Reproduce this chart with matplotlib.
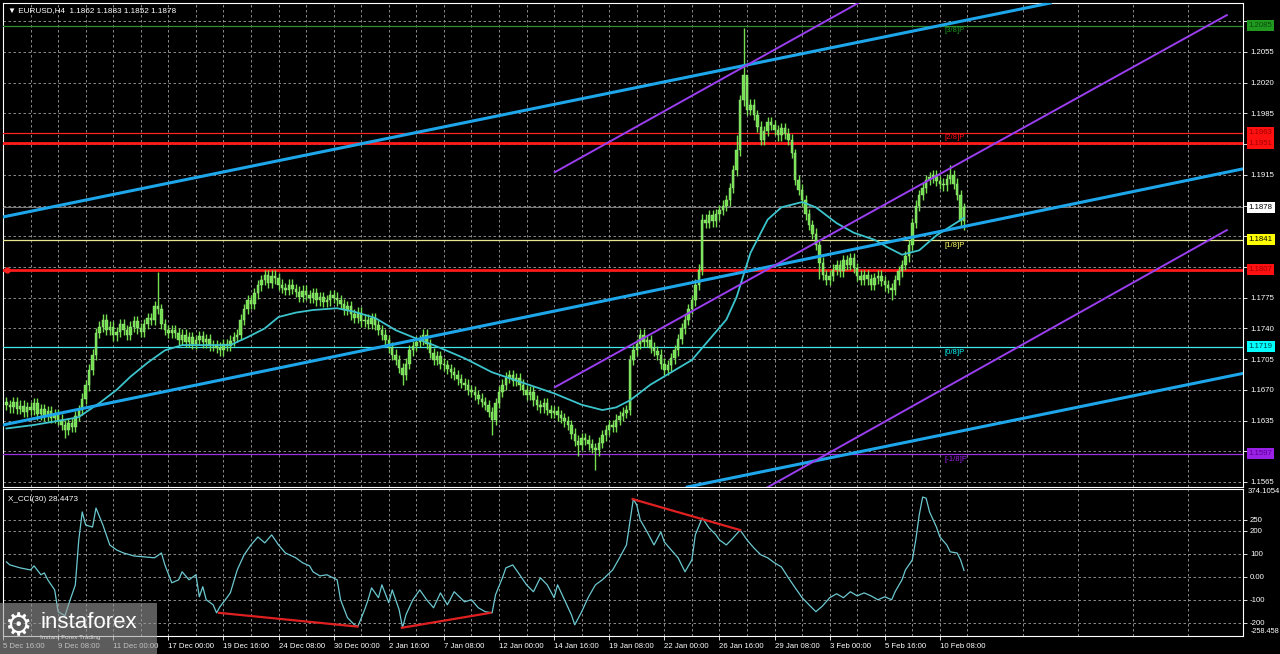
"""
EURUSD H4 chart with CCI panel, MT4-style dark theme.
"""

import numpy as np
import matplotlib.pyplot as plt
import matplotlib.transforms as mtransforms
from matplotlib.patches import Rectangle

plt.rcParams['font.family'] = ['Liberation Sans', 'DejaVu Sans']

# ===== DATA =====
# closes in pips above 1.1000 (H4 bars, oldest first)
closes_pips = [
    653, 650, 656, 648, 652, 645, 650, 647, 655, 642, 648, 640, 646, 638, 642, 636,
    630, 624, 632, 628, 640, 647, 660, 675, 693, 710, 735, 742, 750, 738, 742, 732,
    736, 745, 738, 733, 742, 748, 740, 736, 745, 752, 750, 765, 762, 745, 738, 735,
    738, 735, 727, 733, 725, 730, 722, 727, 731, 724, 728, 720, 721, 718, 715, 722,
    720, 726, 730, 733, 750, 762, 772, 768, 780, 789, 795, 801, 792, 800, 797, 790,
    786, 784, 790, 785, 782, 776, 783, 778, 775, 780, 772, 776, 770, 772, 778, 775,
    772, 768, 761, 765, 756, 752, 758, 748, 750, 745, 752, 744, 738, 733, 727, 718,
    710, 704, 695, 687, 700, 715, 720, 725, 727, 733, 722, 712, 704, 708, 700, 698,
    694, 690, 687, 682, 678, 676, 670, 668, 664, 660, 656, 653, 645, 636, 655, 668,
    676, 684, 687, 680, 683, 676, 670, 664, 668, 658, 653, 650, 655, 647, 644, 646,
    641, 638, 634, 630, 620, 612, 607, 615, 613, 608, 604, 601, 610, 618, 624, 630,
    628, 636, 640, 644, 647, 704, 715, 722, 733, 725, 727, 718, 714, 710, 700, 693,
    698, 706, 715, 728, 740, 750, 762, 772, 790, 807, 864, 860, 869, 862, 870, 875,
    880, 886, 900, 920, 943, 1000, 1029, 989, 995, 983, 970, 955, 965, 975, 972, 966,
    960, 968, 962, 955, 940, 909, 898, 886, 870, 858, 848, 835, 815, 801, 795, 800,
    807, 812, 805, 818, 812, 820, 809, 800, 795, 801, 796, 790, 797, 800, 794, 789,
    786, 784, 795, 805, 812, 822, 835, 860, 880, 892, 900, 909, 912, 915, 908, 905,
    903, 910, 915, 905, 892, 862, 878,
]
# notable wick extremes (bar index -> pips)
spike_highs = {44: 804, 214: 1082, 215: 1027, 274: 926, 212: 960, 229: 945,
               278: 883}
spike_lows = {17: 615, 115: 676, 141: 619, 166: 595, 171: 579, 257: 772, 236: 796,
              278: 852}

# moving average (bar index, pips)
ma_idx = [0, 8, 17, 21, 27, 32, 36, 41, 46, 51, 55, 65, 70, 75, 79, 84, 89, 96, 101,
          107, 113, 118, 124, 133, 141, 150, 159, 167, 173, 177, 181, 187, 193, 199,
          204, 209, 212, 216, 221, 225, 231, 235, 241, 246, 252, 256, 260, 265, 270,
          276, 278]
ma_pips = [626, 630, 636, 639, 655, 670, 685, 701, 715, 721, 721, 721, 730, 740, 753,
           758, 761, 763, 759, 752, 738, 730, 721, 706, 690, 678, 666, 653, 647, 650,
           658, 676, 690, 704, 727, 750, 776, 826, 864, 878, 884, 878, 860, 849, 841,
           832, 824, 829, 846, 861, 866]

# CCI(30) (bar index, value)
cci_idx = [0, 1, 4, 7, 8, 10, 11, 12, 14, 15, 17, 18, 20, 21, 22, 23, 25, 26, 28, 30,
           32, 34, 37, 40, 43, 45, 46, 48, 50, 51, 53, 55, 56, 57, 58, 60, 61, 62, 64,
           65, 67, 69, 71, 73, 75, 77, 79, 81, 84, 86, 88, 89, 91, 93, 96, 97, 99, 101,
           102, 104, 105, 106, 108, 109, 111, 112, 114, 115, 116, 118, 120, 122, 124,
           126, 128, 130, 133, 135, 137, 139, 141, 142, 144, 145, 147, 149, 151, 153,
           155, 157, 159, 160, 162, 164, 165, 167, 169, 171, 173, 176, 178, 180, 182,
           183, 184, 186, 188, 190, 191, 193, 195, 197, 199, 200, 202, 204, 206, 207,
           209, 211, 213, 215, 217, 219, 221, 223, 225, 227, 229, 231, 233, 235, 237,
           239, 241, 243, 245, 247, 249, 251, 253, 255, 257, 258, 260, 261, 263, 264,
           265, 266, 267, 268, 270, 271, 273, 274, 276, 277, 278]
cci_val = [65, 52, 39, 30, 48, 9, 17, -13, -57, -152, -170, -122, -35, 161, 283, 226,
           217, 300, 226, 139, 117, 104, 91, 87, 83, 104, 52, -26, -13, 22, -13, 9, -87,
           -43, -100, -122, -157, -130, -91, -70, 30, 96, 139, 174, 148, 183, 139, 104,
           83, 61, 48, 22, 4, 9, -13, -100, -178, -209, -217, -143, -100, -48, -91, -35,
           -113, -57, -143, -222, -165, -100, -57, -100, -135, -70, -122, -65, -109,
           -100, -135, -152, -157, -78, -4, 39, 52, 9, -35, -65, -4, -35, -91, -35, -100,
           -165, -209, -152, -87, -35, -13, 30, 83, 139, 339, 313, 248, 196, 139, 196,
           152, 117, 83, 22, 74, 183, 257, 213, 183, 161, 139, 170, 204, 161, 126, 96,
           83, 61, 43, -4, -48, -91, -122, -152, -126, -91, -74, -91, -65, -83, -70, -83,
           -100, -87, -100, -65, -13, 30, 74, 161, 270, 348, 343, 283, 217, 174, 139,
           109, 104, 74, 28]

# divergence segments on CCI: (bar, value) pairs
cci_div = [((61.7, -157), (101.9, -217)),
           ((114.8, -222), (140.5, -157)),
           ((181.8, 339), (213.0, 204))]

# channels: two points each (bar, price)
blue_lines = [((-1, 1.1867), (303.3, 1.2111)),
              ((-1, 1.1630), (354.3, 1.1918)),
              ((197.3, 1.1559), (354.3, 1.1685))]
purple_lines = [((159.2, 1.1918), (247.4, 1.2111)),
                ((159.2, 1.1673), (354.3, 1.2097)),
                ((221.0, 1.1559), (354.3, 1.1852))]

murray_levels = [1.2085, 1.1963, 1.1841, 1.1719, 1.1597]
murray_names = ['[3/8]P', '[2/8]P', '[1/8]P', '[0/8]P', '[-1/8]P']
murray_colors = ['#2f8f2f', '#ff2020', '#e8e890', '#40e8e8', '#9b30e0']
murray_box = ['#1f9a1f', '#ff1010', '#ffff00', '#00ffff', '#9b20e8']
murray_text = ['#0a4a0a', '#a00000', 'black', '#004040', '#5a0090']
sr_levels = [1.1951, 1.1807]

last_price = 1.1878
header = '\u25bc EURUSD,H4  1.1862 1.1883 1.1852 1.1878'
cci_title = 'X_CCI(30) 28.4473'

price_ticks = [1.1565, 1.1600, 1.1635, 1.1670, 1.1705, 1.1740, 1.1775, 1.1810,
               1.1845, 1.1880, 1.1915, 1.1950, 1.1985, 1.2020, 1.2055, 1.2090]
price_hidden = [1.1600, 1.1810, 1.1845, 1.1880, 1.1950, 1.2090]
cci_ticks = [-200, -100, 0, 100, 200, 250]
cci_tick_labels = ['-200', '-100', '0.00', '100', '200', '250']

time_labels = ['5 Dec 16:00', '9 Dec 08:00', '11 Dec 00:00', '17 Dec 00:00',
               '19 Dec 16:00', '24 Dec 08:00', '30 Dec 00:00', '2 Jan 16:00',
               '7 Jan 08:00', '12 Jan 00:00', '14 Jan 16:00', '19 Jan 08:00',
               '22 Jan 00:00', '26 Jan 16:00', '29 Jan 08:00', '3 Feb 00:00',
               '5 Feb 16:00', '10 Feb 08:00']

# ===== STYLE =====
W, H = 1280, 654
CANDLE = '#74e050'
GRID = '#a0a0a0'
BLUE = '#1ea6ea'
PURPLE = '#9a3ef0'
MA_COLOR = '#3cc4cc'
CCI_COLOR = '#6cc8d0'
FS = 5.6
XMIN, XMAX = -1, 354.3


def style_axes(ax):
    ax.set_facecolor('black')
    for s in ax.spines.values():
        s.set_color('white')
        s.set_linewidth(0.8)
    ax.set_xlim(XMIN, XMAX)
    ax.set_xticks(np.arange(len(time_labels)) * 16 - 1)
    ax.set_xticks(np.arange(7, 360, 16), minor=True)
    ax.grid(True, which='both', color=GRID, linestyle=(0, (3, 3)), linewidth=0.6)
    ax.yaxis.tick_right()
    ax.tick_params(axis='y', colors='white', labelsize=FS, length=3, width=0.6, pad=2)
    ax.tick_params(axis='x', which='minor', length=0)


fig = plt.figure(figsize=(W / 100, H / 100), dpi=100, facecolor='black')
ax = fig.add_axes([3 / W, 1 - 487 / H, 1240 / W, 484 / H])
ax2 = fig.add_axes([3 / W, 1 - 636 / H, 1240 / W, 147 / H])
style_axes(ax)
style_axes(ax2)

# ===== PRICE PANEL =====
closes = 1.1 + np.array(closes_pips) / 10000
opens = np.concatenate([[closes[0] + 0.0003], closes[:-1]])
idx = np.arange(len(closes))
body_lo = np.minimum(opens, closes)
body_hi = np.maximum(opens, closes)
highs = body_hi + 0.0006
lows = body_lo - 0.0006
for k, v in spike_highs.items():
    highs[k] = 1.1 + v / 10000
for k, v in spike_lows.items():
    lows[k] = 1.1 + v / 10000

ax.vlines(idx, lows, highs, color=CANDLE, linewidth=1.0, zorder=4)
ax.bar(idx, np.maximum(body_hi - body_lo, 0.0001), bottom=body_lo, width=0.72,
       color=CANDLE, edgecolor='#a8f090', linewidth=0.3, zorder=4)

ax.plot(ma_idx, 1.1 + np.array(ma_pips) / 10000, color=MA_COLOR, linewidth=1.3, zorder=5)

for p1, p2 in blue_lines:
    ax.axline(p1, p2, color=BLUE, linewidth=2.2, zorder=6)
for p1, p2 in purple_lines:
    ax.plot([p1[0], p2[0]], [p1[1], p2[1]], color=PURPLE, linewidth=1.4, zorder=6)

trans = mtransforms.blended_transform_factory(ax.transAxes, ax.transData)
for lvl, name, c, bc, tc in zip(murray_levels, murray_names, murray_colors,
                                murray_box, murray_text):
    ax.axhline(lvl, color=c, linewidth=0.9, zorder=3)
    ax.text(272.3, lvl - 0.0002, name, color=bc if name != '[1/8]P' else '#ffff60',
            fontsize=FS, va='top', ha='left', zorder=7)
    ax.text(1.0045, lvl, f'{lvl:.4f}', transform=trans, color=tc, fontsize=FS,
            va='center', ha='left', clip_on=False, zorder=8,
            bbox=dict(boxstyle='square,pad=0.25', fc=bc, ec='none'))

for lvl in sr_levels:
    ax.axhline(lvl, color='#ff1a1a', linewidth=2.0, zorder=3)
    ax.text(1.0045, lvl, f'{lvl:.4f}', transform=trans, color='#a00000', fontsize=FS,
            va='center', ha='left', clip_on=False, zorder=8,
            bbox=dict(boxstyle='square,pad=0.25', fc='#ff1010', ec='none'))
ax.plot([0.2], [sr_levels[1]], 'o', color='#ff2020', markersize=3.5, zorder=7)

ax.axhline(last_price, color='#909090', linewidth=0.6, zorder=3)
ax.text(1.0045, last_price, f'{last_price:.4f}', transform=trans, color='black',
        fontsize=FS, va='center', ha='left', clip_on=False, zorder=8,
        bbox=dict(boxstyle='square,pad=0.25', fc='white', ec='none'))

ax.set_ylim(1.15593, 1.21108)
ax.set_yticks(price_ticks)
ax.set_yticklabels(['' if t in price_hidden else f'{t:.4f}' for t in price_ticks])
ax.tick_params(axis='x', which='major', length=0, labelbottom=False)
ax.text(0.004, 0.992, header, transform=ax.transAxes, color='white', fontsize=FS + 0.3,
        va='top', ha='left')

# ===== CCI PANEL =====
ax2.plot(cci_idx, cci_val, color=CCI_COLOR, linewidth=0.9, zorder=4)
for p1, p2 in cci_div:
    ax2.plot([p1[0], p2[0]], [p1[1], p2[1]], color='#e02020', linewidth=1.6, zorder=5)
ax2.set_ylim(-258, 383)
ax2.set_yticks(cci_ticks)
ax2.set_yticklabels(cci_tick_labels)
ax2_trans = mtransforms.blended_transform_factory(ax2.transAxes, ax2.transData)
ax2.text(1.004, 374.1, '374.1054', transform=ax2_trans, color='white', fontsize=FS,
         va='center', ha='left')
ax2.text(1.006, -240, '-258.458', transform=ax2_trans, color='white', fontsize=5.2,
         va='center', ha='left')
ax2.text(0.004, 0.95, cci_title, transform=ax2.transAxes, color='white',
         fontsize=FS + 0.3, va='top', ha='left')
ax2.set_xticklabels(time_labels, ha='left')
ax2.tick_params(axis='x', which='major', colors='white', labelsize=FS, length=3,
                width=0.6, pad=2)

# ===== LOGO =====
fig.add_artist(Rectangle((0, 0), 157 / W, 51 / H, transform=fig.transFigure,
                         facecolor='#9a9a9a', alpha=0.6, edgecolor='none', zorder=10))
fig.text(4 / W, 1 - 627 / H, '\u2699', color='white', fontsize=22, va='center',
         ha='left', family='DejaVu Sans', zorder=11)
fig.text(40 / W, 1 - 623 / H, 'instaforex', color='white', fontsize=16, va='center',
         ha='left', zorder=11)
fig.text(40 / W, 1 - 638 / H, 'Instant Forex Trading', color='#d8d8d8', fontsize=4.6,
         va='center', ha='left', zorder=11)

plt.savefig('out.png', dpi=100, facecolor='black')
plt.close()
